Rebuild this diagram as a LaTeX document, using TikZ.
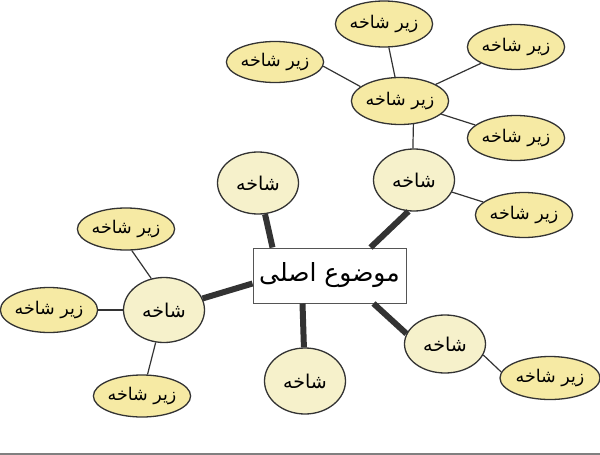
\documentclass[tikz,border=0pt]{standalone}
\usepackage{fontspec}
\usetikzlibrary{shapes.geometric}
\TeXXeTstate=1
\newfontfamily\arabicfont[Script=Arabic]{DejaVu Sans}
\definecolor{branchfill}{HTML}{F6F1CB}
\definecolor{twigfill}{HTML}{F6EAA4}
\definecolor{linegray}{HTML}{333333}
\definecolor{boxgray}{HTML}{555555}

\begin{document}
\begin{tikzpicture}[x=1pt,y=-1pt,
   topic/.style={draw=boxgray, line width=1pt, fill=white, minimum width=153pt,
      minimum height=55pt, inner sep=0pt, font=\arabicfont\fontsize{25}{30}\selectfont},
   branch/.style={ellipse, draw=linegray, line width=1.3pt, fill=branchfill,
      minimum width=81pt, minimum height=62pt, inner sep=0pt,
      font=\arabicfont\fontsize{19}{22}\selectfont},
   twig/.style={ellipse, draw=linegray, line width=1.3pt, fill=twigfill,
      minimum width=97pt, minimum height=45pt, inner sep=0pt,
      font=\arabicfont\fontsize{17.5}{20}\selectfont},
   trunk/.style={line width=6pt, draw=linegray},
   twigline/.style={line width=1.2pt, draw=linegray}]
   \useasboundingbox (0,0) rectangle (600,455);
   % main topic
   \node[topic] (main) at (329.5,275.5) {\beginR موضوع اصلی\endR};
   % branches
   \node[branch] (b1) at (258,183) {\beginR شاخه\endR};
   \node[branch] (b2) at (414,180) {\beginR شاخه\endR};
   \node[branch, minimum height=65pt] (b3) at (164,310) {\beginR شاخه\endR};
   \node[branch, minimum height=66pt] (b4) at (305,381) {\beginR شاخه\endR};
   \node[branch, minimum height=58pt] (b5) at (445,344) {\beginR شاخه\endR};
   % sub branches
   \node[twig, minimum height=47pt] (hub) at (400,101) {\beginR زیر شاخه\endR};
   \node[twig, minimum height=46pt] (t1) at (384,24) {\beginR زیر شاخه\endR};
   \node[twig] (t2) at (516,47) {\beginR زیر شاخه\endR};
   \node[twig] (t3) at (516,138) {\beginR زیر شاخه\endR};
   \node[twig, minimum height=41pt] (t4) at (275,62) {\beginR زیر شاخه\endR};
   \node[twig, minimum width=89pt] (t5) at (524,215) {\beginR زیر شاخه\endR};
   \node[twig, minimum height=42pt] (l1) at (126,229) {\beginR زیر شاخه\endR};
   \node[twig] (l2) at (49,310) {\beginR زیر شاخه\endR};
   \node[twig, minimum height=42pt] (l3) at (142,396) {\beginR زیر شاخه\endR};
   \node[twig, minimum width=100pt, minimum height=43pt] (r1) at (550,378) {\beginR زیر شاخه\endR};
   % trunks
   \draw[trunk] ([xshift=20pt]main.north west) -- (b1);
   \draw[trunk] ([xshift=-36pt]main.north east) -- (b2.-100);
   \draw[trunk] ([yshift=-8pt]main.west) -- (b3);
   \draw[trunk] ([xshift=-27pt]main.south) -- (b4);
   \draw[trunk] ([xshift=44pt]main.south) -- (b5.165);
   % twigs
   \draw[twigline] (b2.92) -- (hub.-60);
   \draw[twigline] (hub) -- (t1);
   \draw[twigline] (hub) -- (t2);
   \draw[twigline] (hub) -- (t3);
   \draw[twigline] (t4.-5) -- (hub.160);
   \draw[twigline] (b2) -- (t5);
   \draw[twigline] (b3.112) -- (l1.-75);
   \draw[twigline] (b3) -- (l2);
   \draw[twigline] (b3) -- (l3);
   \draw[twigline] (b5.-16) -- (r1.173);
   % bottom rule
   \draw[gray, line width=2pt] (0,454) -- (600,454);
\end{tikzpicture}
\end{document}
